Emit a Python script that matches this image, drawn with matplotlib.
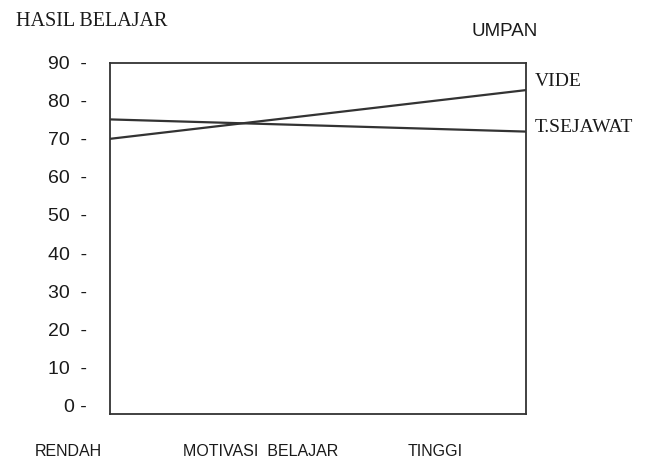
import matplotlib.pyplot as plt

# data
motivasi = ["RENDAH", "TINGGI"]
x_pos = [0, 1]
vide = [70.0, 82.8]
sejawat = [75.1, 71.9]
y_ticks = [0, 10, 20, 30, 40, 50, 60, 70, 80, 90]

sans = "Liberation Sans"
serif = "Liberation Serif"
col = "#333333"
tcol = "#1a1a1a"

fig = plt.figure(figsize=(6.53, 4.65), dpi=100)
ax = fig.add_axes([110/653, 1-414/465, 416/653, 351.3/465])

ax.plot(x_pos, vide, color=col, lw=1.6)
ax.plot(x_pos, sejawat, color=col, lw=1.6)

ax.set_xlim(0, 1)
ax.set_ylim(-2.3, 89.1)
ax.set_xticks([])
ax.set_yticks(y_ticks)
labels = [(str(v) + "  -") if v > 0 else "0 -" for v in y_ticks]
ax.set_yticklabels(labels, fontfamily=sans, fontsize=14, color=tcol)
ax.tick_params(axis="y", length=0, pad=16.5)
for s in ax.spines.values():
    s.set_color(col)
    s.set_linewidth(1.3)

fig.text(16/653, 1-22/465, "HASIL BELAJAR", family=serif, fontsize=14.5, va="center", ha="left", color=tcol)
fig.text(505/653, 1-32/465, "UMPAN", family=sans, fontsize=13.5, va="center", ha="center", color=tcol)
fig.text(535/653, 1-82/465, "VIDE", family=serif, fontsize=14, va="center", ha="left", color=tcol)
fig.text(535/653, 1-128/465, "T.SEJAWAT", family=serif, fontsize=14, va="center", ha="left", color=tcol)
fig.text(68/653, 1-451/465, motivasi[0], family=sans, fontsize=11.5, va="center", ha="center", color=tcol)
fig.text(261/653, 1-451/465, "MOTIVASI  BELAJAR", family=sans, fontsize=11.5, va="center", ha="center", color=tcol)
fig.text(435/653, 1-451/465, motivasi[1], family=sans, fontsize=11.5, va="center", ha="center", color=tcol)

fig.savefig("out.png", dpi=100)
